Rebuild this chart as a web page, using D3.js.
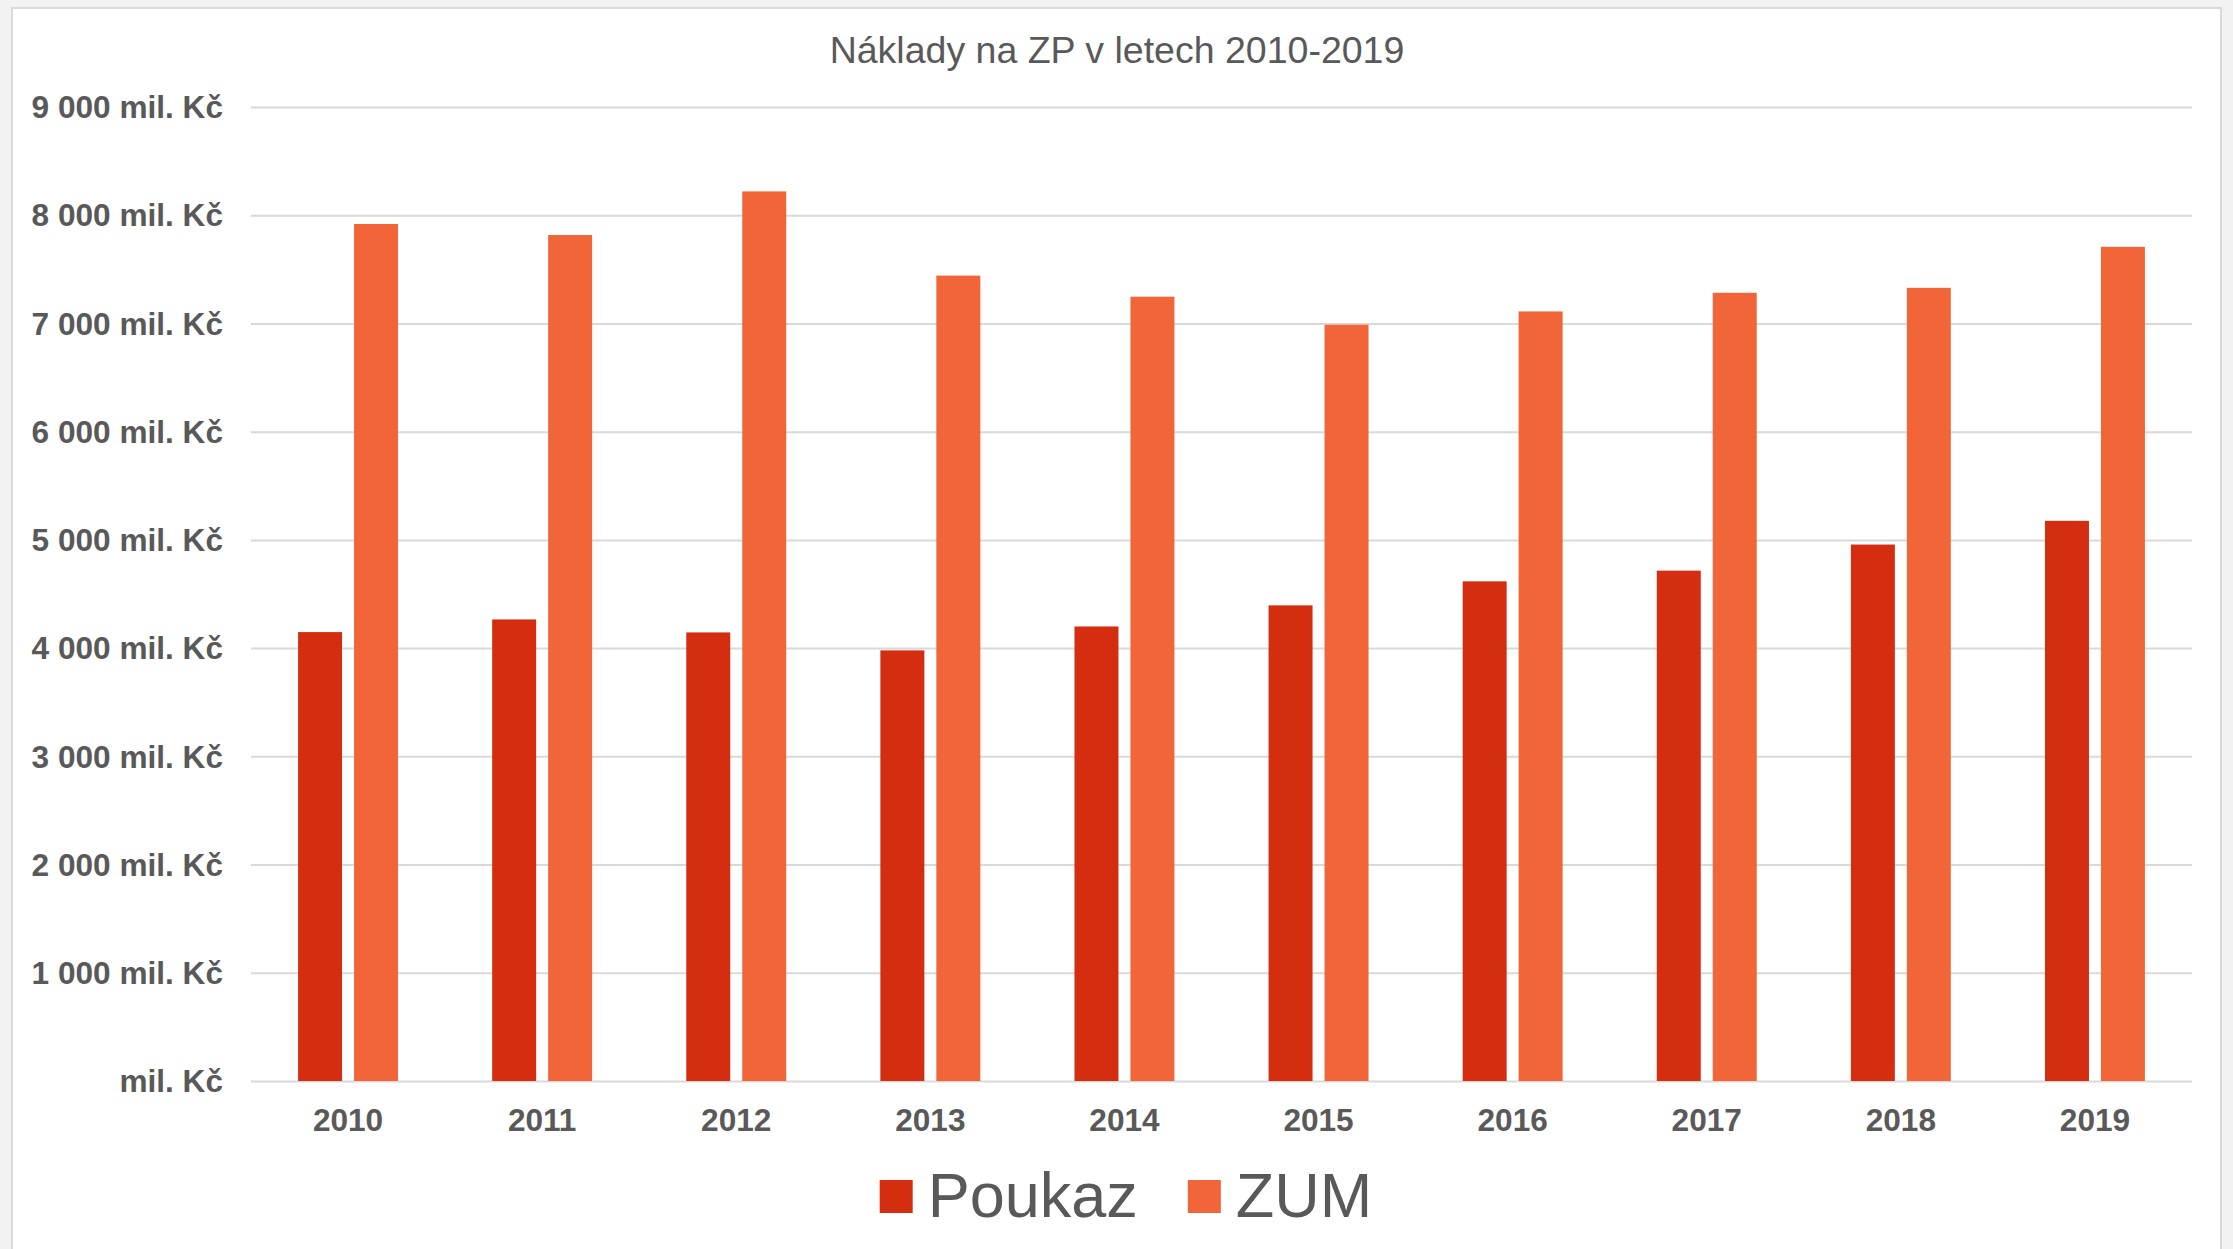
<!DOCTYPE html>
<html>
<head>
<meta charset="utf-8">
<script src="https://cdn.jsdelivr.net/npm/d3@7"></script>
<style>
  body { margin: 0; background: #f2f2f2; }
  svg { display: block; }
</style>
</head>
<body>
<div id="viz"></div>
<script>
// data
var years = ["2010", "2011", "2012", "2013", "2014", "2015", "2016", "2017", "2018", "2019"];
var series = ["Poukaz", "ZUM"];
var poukaz = [4148, 4265, 4145, 3979, 4200, 4395, 4617, 4716, 4957, 5176];
var zum = [7919, 7817, 8220, 7442, 7247, 6988, 7111, 7283, 7329, 7708];
var yTicks = [0, 1000, 2000, 3000, 4000, 5000, 6000, 7000, 8000, 9000];
var title = "Náklady na ZP v letech 2010-2019";

var colors = { Poukaz: "#d42d10", ZUM: "#f16539" };
var textColor = "#595959";
var gridColor = "#d9d9d9";

var width = 2233;
var height = 1249;
var margin = { left: 251, right: 2192, top: 107, bottom: 1081 };

var svg = d3.select("#viz")
  .append("svg")
  .attr("width", width)
  .attr("height", height);

// chart area frame
svg.append("rect")
  .attr("x", 12)
  .attr("y", 8)
  .attr("width", 2209)
  .attr("height", 1260)
  .attr("fill", "#fff")
  .attr("stroke", gridColor)
  .attr("stroke-width", 2);

svg.append("text")
  .text(title)
  .attr("x", 1117)
  .attr("y", 63)
  .attr("fill", textColor)
  .attr("font-family", "Liberation Sans, Arial, sans-serif")
  .attr("font-size", "37.5px")
  .attr("text-anchor", "middle");

var x0 = d3.scaleBand()
  .domain(years)
  .range([margin.left, margin.right])
  .paddingInner(0.485)
  .paddingOuter(0.2425);

var x1 = d3.scaleBand()
  .domain(series)
  .range([0, x0.bandwidth()])
  .paddingInner(0.214);

var y = d3.scaleLinear()
  .domain([0, 9000])
  .range([margin.bottom, margin.top]);

function fmt(v) {
  if (v === 0) return "mil. Kč";
  return d3.format(",")(v).replace(",", " ") + " mil. Kč";
}

// grid
var yAxis = svg.append("g")
  .attr("transform", "translate(" + margin.left + ",0)")
  .call(d3.axisLeft(y)
    .tickValues(yTicks)
    .tickSize(-(margin.right - margin.left))
    .tickPadding(28)
    .tickFormat(fmt));

yAxis.select(".domain").remove();
yAxis.selectAll(".tick line")
  .attr("stroke", gridColor)
  .attr("stroke-width", 2);
yAxis.selectAll(".tick text")
  .attr("fill", textColor)
  .attr("font-family", "Liberation Sans, Arial, sans-serif")
  .attr("font-weight", "bold")
  .attr("font-size", "31.6px")
  .attr("dy", "0.34em");

// bars
var rows = years.map(function(yr, i) {
  return { year: yr, values: [
    { key: "Poukaz", value: poukaz[i] },
    { key: "ZUM", value: zum[i] }
  ] };
});

var groups = svg.append("g").selectAll("g")
  .data(rows)
  .enter()
  .append("g")
  .attr("transform", function(d) { return "translate(" + x0(d.year) + ",0)"; });

groups.selectAll("rect")
  .data(function(d) { return d.values; })
  .enter()
  .append("rect")
  .attr("x", function(d) { return x1(d.key); })
  .attr("y", function(d) { return y(d.value); })
  .attr("width", x1.bandwidth())
  .attr("height", function(d) { return y(0) - y(d.value); })
  .attr("fill", function(d) { return colors[d.key]; });

// x axis
var xAxis = svg.append("g")
  .attr("transform", "translate(0," + margin.bottom + ")")
  .call(d3.axisBottom(x0).tickSize(0).tickPadding(28));

xAxis.select(".domain").remove();
xAxis.selectAll(".tick text")
  .attr("fill", textColor)
  .attr("font-family", "Liberation Sans, Arial, sans-serif")
  .attr("font-weight", "bold")
  .attr("font-size", "31.6px")
  .attr("dy", "0.71em");

// legend
var legend = svg.append("g");
var lx = 0;
series.forEach(function(s, i) {
  var item = legend.append("g").attr("transform", "translate(" + lx + ",0)");
  item.append("rect")
    .attr("x", 0)
    .attr("y", -37)
    .attr("width", 33)
    .attr("height", 33)
    .attr("fill", colors[s]);
  var t = item.append("text")
    .text(s)
    .attr("x", 48)
    .attr("y", 0)
    .attr("fill", textColor)
    .attr("font-family", "Liberation Sans, Arial, sans-serif")
    .attr("font-size", "63px");
  lx += 48 + t.node().getComputedTextLength() + 50;
});
var legendWidth = lx - 50;
legend.attr("transform", "translate(" + (1126 - legendWidth / 2) + ",1217)");
</script>
</body>
</html>
